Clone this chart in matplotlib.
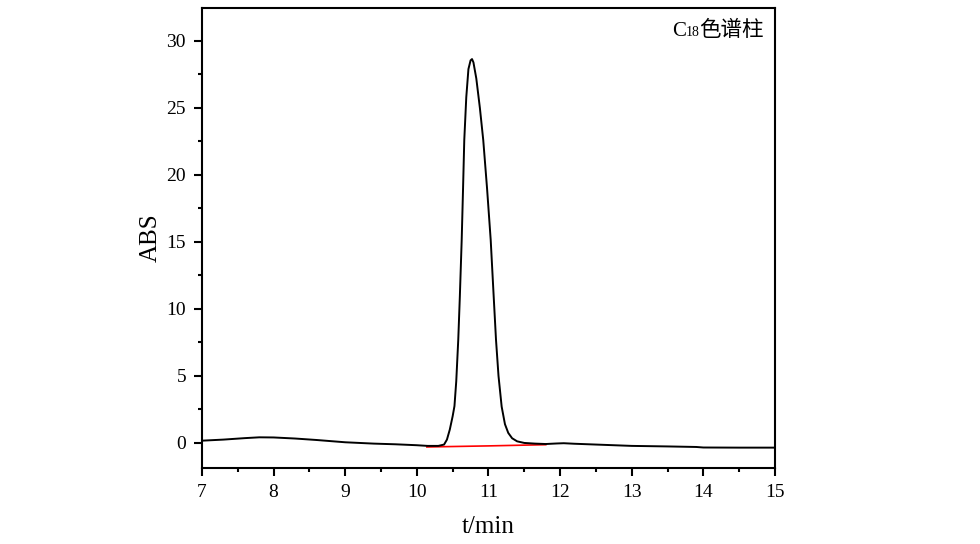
import matplotlib

matplotlib.use("Agg")
import matplotlib.pyplot as plt
from matplotlib.ticker import MultipleLocator

# chromatogram (retention time in min, absorbance)
t_min = [
    7.0, 7.3, 7.6, 7.8, 8.0, 8.3, 8.6, 9.0, 9.4, 9.7, 10.0, 10.15, 10.3,
    10.38, 10.42, 10.46, 10.50, 10.525, 10.55, 10.578, 10.60, 10.626, 10.645,
    10.662, 10.69, 10.72, 10.75, 10.77, 10.79, 10.83, 10.88, 10.927, 10.98,
    11.031, 11.07, 11.105, 11.14, 11.184, 11.23, 11.276, 11.33, 11.40,
    11.50, 11.65, 11.8, 11.95, 12.05, 12.2, 12.5, 13.0, 13.5, 13.9, 14.0,
    14.5, 15.0,
]
absorb = [
    0.17, 0.25, 0.36, 0.42, 0.41, 0.33, 0.22, 0.05, -0.05, -0.10, -0.17,
    -0.22, -0.22, -0.12, 0.25, 1.0, 2.0, 2.75, 4.6, 7.7, 10.9, 15.15, 19.0,
    22.6, 25.8, 27.9, 28.55, 28.65, 28.4, 27.2, 25.0, 22.6, 19.0, 15.15,
    11.2, 7.7, 5.0, 2.71, 1.4, 0.75, 0.35, 0.12, 0.0, -0.05, -0.08, -0.04,
    -0.02, -0.06, -0.12, -0.22, -0.26, -0.30, -0.34, -0.35, -0.35,
]

# integration baseline drawn in red under the peak
base_t = [10.14, 11.0, 11.8]
base_abs = [-0.30, -0.22, -0.13]

x_ticks = [7, 8, 9, 10, 11, 12, 13, 14, 15]
y_ticks = [0, 5, 10, 15, 20, 25, 30]

plt.rcParams["font.family"] = ["Liberation Serif", "Noto Sans CJK SC"]

fig = plt.figure(figsize=(9.8, 5.44), dpi=100)
ax = fig.add_axes([0.2061, 0.1397, 0.5847, 0.8456])

ax.plot(base_t, base_abs, color="red", lw=1.2)
ax.plot(t_min, absorb, color="black", lw=1.4)

ax.set_xlim(7, 15)
ax.set_ylim(-1.87, 32.46)
ax.set_xticks(x_ticks)
ax.set_yticks(y_ticks)
ax.xaxis.set_minor_locator(MultipleLocator(0.5))
ax.yaxis.set_minor_locator(MultipleLocator(2.5))

for s in ax.spines.values():
    s.set_linewidth(1.5)
ax.tick_params(which="major", direction="out", length=5.5, width=1.5,
               labelsize=14, pad=6)
ax.tick_params(which="minor", direction="out", length=3, width=1.5)

ax.set_xlabel("t/min", fontsize=18, labelpad=11)
ax.set_ylabel("ABS", fontsize=18, labelpad=3)

# "C18色谱柱" label, subscript done as a smaller text on the same baseline
y_base = 0.94
c_txt = ax.text(0.820, y_base, "C", transform=ax.transAxes,
                va="baseline", ha="left", fontsize=15)
sub_txt = ax.annotate("18", xy=(1, y_base), xycoords=(c_txt, "axes fraction"),
                      va="baseline", ha="left", fontsize=10)
ax.annotate("色谱柱", xy=(1, y_base), xycoords=(sub_txt, "axes fraction"),
            va="baseline", ha="left", fontsize=15.5,
            family=["Noto Sans CJK SC", "DejaVu Sans"])

fig.savefig("out.png", dpi=100)
